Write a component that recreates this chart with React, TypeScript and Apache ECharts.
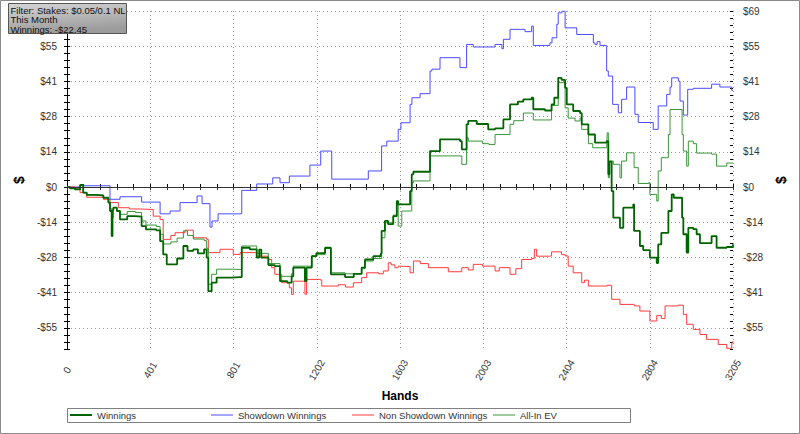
import React, { useEffect, useRef } from 'react';
import * as echarts from 'echarts';

const FONT = '"Liberation Sans", Arial, sans-serif';

// x axis (hands)
const X_MAX = 3205;
const X_STEP = 400.625;
const xTickLabels = ['0', '401', '801', '1202', '1603', '2003', '2404', '2804', '3205'];

// y axis ($)
const Y_MIN = -63.48;
const Y_MAX = 69;
const Y_MINOR = 2.76;
const yMajorTicks = [-55.2, -41.4, -27.6, -13.8, 0, 13.8, 27.6, 41.4, 55.2, 69];
const yTickLabels = ['-$55', '-$41', '-$28', '-$14', '$0', '$14', '$28', '$41', '$55', '$69'];

const seriesNames = ['Winnings', 'Showdown Winnings', 'Non Showdown Winnings', 'All-In EV'];
const seriesColors = ['#006400', '#4b4bff', '#ff3b3b', '#3a963a'];
const seriesWidths = [1.8, 1, 1, 1];
const infoLines = ['Filter: Stakes: $0.05/0.1 NL', 'This Month', 'Winnings: -$22.45'];

// [hand, $]
const winnings: [number, number][] = [
  [0, 0], [14, -0.5], [38, -0.9], [63, 0.8], [78, -2.2], [95, -3.1], [135, -3.3], [175, -4.2],
  [199, -6.1], [207, -9.4], [215, -19.2], [219, -9], [223, -8.1], [240, -9.4], [255, -12.7],
  [290, -11.4], [330, -11.6], [359, -15.3], [380, -16.6], [430, -17], [448, -21.2], [463, -26.4],
  [480, -30.3], [520, -30.3], [530, -28], [560, -23.1], [580, -25], [608, -24.4], [630, -26],
  [660, -24.4], [672, -27.7], [680, -40.8], [696, -37.5], [720, -35.5], [790, -35.3], [833, -35.3],
  [841, -23.8], [880, -24.4], [913, -27.7], [925, -24.5], [935, -27.7], [969, -30.6], [1000, -31],
  [1025, -36.9], [1060, -37.5], [1081, -35], [1089, -31.6], [1140, -31.6], [1145, -36.9],
  [1153, -31.6], [1178, -27.1], [1200, -25.9], [1242, -23.8], [1260, -23.8], [1270, -34.2],
  [1338, -35.3], [1380, -34], [1418, -31.6], [1434, -28.4], [1474, -27.1], [1510, -26],
  [1514, -17.2], [1530, -13.3], [1545, -14.5], [1570, -11.4], [1587, -5.5], [1594, -6.8],
  [1627, -6.8], [1651, -1.6], [1659, 5], [1667, 6], [1739, 6], [1747, 14.1], [1795, 18.7],
  [1891, 18], [1900, 14.8], [1923, 24.6], [1931, 25.9], [1972, 24.7], [2027, 22.6], [2060, 23],
  [2100, 26.5], [2132, 32.4], [2170, 33.5], [2196, 34.4], [2236, 35], [2244, 30.5], [2300, 30],
  [2332, 32.4], [2345, 35], [2364, 42.8], [2380, 42], [2397, 38.9], [2405, 32.4], [2436, 29.8],
  [2469, 29], [2477, 24.6], [2509, 20.6], [2541, 17.4], [2597, 18], [2605, 5], [2610, 10],
  [2621, -1.6], [2629, -12], [2661, -16], [2677, -8.1], [2725, -6.8], [2729, -17.2], [2757, -23.1],
  [2773, -24.7], [2805, -27.7], [2838, -29.8], [2845, -22.5], [2860, -18], [2894, -9.4],
  [2910, -2.9], [2920, -4.2], [2950, -4.2], [2960, -12], [2966, -18.5], [2982, -25.7], [2990, -16],
  [3014, -16.5], [3030, -18.5], [3046, -22], [3078, -22], [3102, -19.2], [3126, -23.8],
  [3175, -23.5], [3205, -22.45],
];

const allInEV: [number, number][] = [
  [0, 0], [14, -0.5], [38, -0.9], [63, 0.8], [78, -2.2], [95, -3.1], [135, -3.3], [175, -4.2],
  [199, -6.1], [207, -8.5], [215, -12], [223, -8.1], [240, -9.4], [255, -10.7], [290, -9.6],
  [330, -10], [359, -13.3], [380, -14.9], [430, -15.5], [448, -18.5], [463, -22.3], [500, -21.5],
  [530, -20], [560, -17.2], [580, -19], [608, -20.4], [660, -21], [672, -24], [680, -38.1],
  [696, -34.2], [720, -32.2], [790, -32.3], [833, -32.3], [841, -23.1], [913, -26], [969, -30],
  [1025, -35], [1081, -34], [1089, -31], [1153, -31], [1178, -27], [1200, -26.5], [1242, -24],
  [1270, -33.6], [1338, -34], [1418, -32], [1434, -29], [1474, -28], [1514, -19.9], [1530, -14],
  [1570, -11], [1587, -6.5], [1594, -15.3], [1611, -9.4], [1651, -9.4], [1659, 1.7], [1667, 2.4],
  [1739, 2.4], [1747, 12.2], [1891, 12.2], [1900, 8.9], [1923, 19.3], [1931, 18], [2000, 17],
  [2030, 16.7], [2060, 20.6], [2132, 24.6], [2150, 26], [2196, 29], [2236, 29], [2244, 26.3],
  [2300, 26.3], [2332, 32], [2364, 40.9], [2397, 31], [2412, 27], [2445, 25.9], [2469, 27],
  [2477, 22.6], [2509, 17], [2530, 15.4], [2597, 16], [2600, 21.3], [2605, 3.6], [2610, 10.2],
  [2629, 8.9], [2653, 8.9], [2661, 3.6], [2669, 10.2], [2693, 13.4], [2729, 7.6], [2749, 1.4],
  [2800, 1.8], [2805, -2.9], [2838, -5.5], [2845, 6.3], [2860, 11.5], [2894, 20.6], [2902, 30.4],
  [2950, 30.4], [2960, 20.6], [2966, 14.1], [2982, 8.2], [2990, 18], [3014, 17], [3030, 13.3],
  [3078, 13.3], [3102, 12.9], [3126, 8.2], [3175, 9.4], [3205, 9.4],
];

const showdown: [number, number][] = [
  [0, 0], [62, 0.5], [207, -4.8], [255, -3.8], [359, -5.9], [448, -10.5], [496, -9.4], [544, -6.1],
  [626, -3.5], [650, -6.5], [688, -15.7], [698, -13.3], [727, -10.5], [841, -1.3], [913, 1.2],
  [990, 3.6], [1025, 1.7], [1070, 4.3], [1169, 8.6], [1221, 14.1], [1274, 3.1], [1450, 6.3],
  [1514, 16.1], [1539, 18], [1594, 22.6], [1607, 25.2], [1651, 32.4], [1660, 35], [1699, 36.6],
  [1747, 45.5], [1756, 46.2], [1795, 50.7], [1891, 46.8], [1923, 55.9], [1955, 54.9], [2060, 55.9],
  [2093, 54.2], [2100, 57.9], [2132, 61.8], [2204, 60.9], [2236, 63.1], [2244, 55.5], [2324, 56.5],
  [2334, 58.5], [2357, 63.8], [2364, 68.3], [2382, 69], [2397, 62.4], [2453, 59.8], [2533, 56.5],
  [2541, 55.9], [2551, 57], [2565, 55.5], [2597, 45.5], [2605, 43.5], [2626, 32.4], [2653, 29.1],
  [2669, 34.4], [2693, 39.2], [2733, 28.5], [2749, 25.3], [2821, 22.6], [2845, 31.8], [2886, 36.3],
  [2902, 39.2], [2910, 42.8], [2942, 41.5], [2950, 33.7], [2966, 28.2], [2987, 38.3], [3014, 38.7],
  [3102, 40.3], [3142, 39.2], [3199, 37.9], [3205, 37.9],
];

const nonShowdown: [number, number][] = [
  [0, 0], [38, -0.7], [63, -2.2], [95, -4], [175, -4.8], [207, -6.1], [247, -8.1], [300, -8.6],
  [351, -8.8], [415, -11.4], [448, -12.7], [463, -20.5], [500, -19], [520, -17.9], [568, -16.9],
  [608, -19.9], [672, -20.5], [680, -25.7], [736, -24.4], [800, -26.4], [833, -25.7], [913, -27.1],
  [969, -28.4], [985, -31.6], [1000, -34.2], [1033, -37.5], [1070, -39.5], [1081, -42.1],
  [1089, -36.9], [1140, -36.9], [1145, -42], [1153, -36.2], [1220, -36.5], [1226, -38.8],
  [1306, -38.3], [1340, -39.2], [1378, -37.5], [1418, -35.5], [1442, -33.6], [1500, -34],
  [1522, -32.9], [1546, -29.7], [1560, -30.5], [1578, -31.6], [1594, -31], [1611, -31.2],
  [1651, -33.6], [1667, -29], [1700, -30], [1739, -31.6], [1835, -33.2], [1900, -31.6],
  [1931, -32.5], [1955, -30.3], [2000, -31], [2060, -32.9], [2080, -31.6], [2132, -34.2],
  [2160, -32], [2188, -28.4], [2236, -28], [2249, -24.4], [2260, -27.1], [2324, -27], [2332, -25.4],
  [2380, -26.5], [2397, -27], [2412, -31], [2436, -33.6], [2477, -37.5], [2490, -36.5],
  [2509, -38.8], [2600, -38.5], [2621, -44], [2661, -46], [2730, -46.6], [2757, -48.6],
  [2805, -52.5], [2838, -50.4], [2860, -51.5], [2878, -46.6], [2940, -46.3], [2966, -49.9],
  [2982, -53.8], [3014, -55.8], [3046, -57.8], [3078, -59.7], [3134, -61.7], [3175, -63.2],
  [3199, -61], [3205, -60.4],
];

const seriesData = [winnings, showdown, nonShowdown, allInEV];

const majorIndex = (v: number) => yMajorTicks.findIndex((t) => Math.abs(t - v) < 1e-3);

export default function App() {
  const ref = useRef<HTMLDivElement>(null);

  useEffect(() => {
    if (!ref.current) return;
    const chart = echarts.init(ref.current, undefined, { renderer: 'svg' });
    const phase = Math.round((yMajorTicks[0] - Y_MIN) / Y_MINOR) % 5;
    const splitColors = [0, 1, 2, 3, 4].map((i) => (i === phase ? '#9a9a9a' : 'rgba(0,0,0,0)'));

    const axisLabelStyle = { fontFamily: FONT, fontSize: 10, color: '#333' };
    const yBase = { type: 'value' as const, min: Y_MIN, max: Y_MAX, interval: Y_MINOR };
    const xBase = { type: 'value' as const, min: 0, max: X_MAX, interval: X_STEP };

    const yFormatter = (hideTop: boolean) => (v: number) => {
      const i = majorIndex(v);
      if (i < 0) return '';
      if (hideTop && i === yMajorTicks.length - 1) return '';
      return yTickLabels[i];
    };

    const line = (idx: number, extra: any = {}) => ({
      name: seriesNames[idx],
      type: 'line',
      data: seriesData[idx],
      step: 'end',
      symbol: 'none',
      showSymbol: false,
      color: seriesColors[idx],
      lineStyle: { color: seriesColors[idx], width: seriesWidths[idx] },
      itemStyle: { color: seriesColors[idx] },
      emphasis: { disabled: true },
      ...extra,
    });

    const legends = seriesNames.map((name, i) => ({
      data: [{ name, icon: 'rect' }],
      left: 70 + i * 141,
      top: 410,
      padding: 0,
      itemWidth: 22,
      itemHeight: seriesWidths[i] > 1 ? 2 : 1,
      selectedMode: false,
      textStyle: { fontFamily: FONT, fontSize: 9.5, color: '#333' },
    }));

    chart.setOption({
      animation: false,
      backgroundColor: '#ffffff',
      textStyle: { fontFamily: FONT },
      grid: { left: 67, right: 67, top: 11, bottom: 85, containLabel: false },
      xAxis: [
        {
          ...xBase,
          position: 'bottom',
          axisLine: { show: true, lineStyle: { color: '#000', width: 1 } },
          axisTick: { show: true, length: 3, lineStyle: { color: '#000' } },
          minorTick: { show: true, splitNumber: 5, length: 3, lineStyle: { color: '#000' } },
          axisLabel: {
            ...axisLabelStyle,
            rotate: 60,
            align: 'center',
            verticalAlign: 'middle',
            margin: 21,
            formatter: (v: number) => xTickLabels[Math.round(v / X_STEP)] ?? '',
          },
          splitLine: { show: true, lineStyle: { color: '#9a9a9a', type: [1, 3], width: 1 } },
          name: 'Hands',
          nameLocation: 'middle',
          nameGap: 41,
          nameTextStyle: { fontFamily: FONT, fontSize: 12, fontWeight: 'bold', color: '#000' },
        },
        {
          ...xBase,
          position: 'bottom',
          axisLine: { show: false },
          axisTick: { show: true, inside: true, length: 3, lineStyle: { color: '#000' } },
          minorTick: { show: true, splitNumber: 5, length: 3, lineStyle: { color: '#000' } },
          axisLabel: { show: false },
          splitLine: { show: false },
        },
        {
          ...xBase,
          position: 'top',
          axisLine: { show: true, lineStyle: { color: '#333', width: 1 } },
          axisTick: { show: true, inside: true, length: 3, lineStyle: { color: '#333' } },
          minorTick: { show: true, splitNumber: 5, length: 3, lineStyle: { color: '#333' } },
          axisLabel: { show: false },
          splitLine: { show: false },
        },
      ],
      yAxis: [
        {
          ...yBase,
          position: 'left',
          axisLine: { show: true, lineStyle: { color: '#000', width: 1 } },
          axisTick: { show: true, length: 3, lineStyle: { color: '#000' } },
          axisLabel: { ...axisLabelStyle, margin: 10, formatter: yFormatter(true) },
          splitLine: { show: true, lineStyle: { color: splitColors, type: [1, 3], width: 1 } },
          name: '$',
          nameLocation: 'middle',
          nameGap: 40,
          nameRotate: 90,
          nameTextStyle: { fontFamily: FONT, fontSize: 14, fontWeight: 'bold', color: '#000' },
        },
        {
          ...yBase,
          position: 'left',
          axisLine: { show: false },
          axisTick: { show: true, inside: true, length: 3, lineStyle: { color: '#000' } },
          axisLabel: { show: false },
          splitLine: { show: false },
        },
        {
          ...yBase,
          position: 'right',
          axisLine: { show: true, lineStyle: { color: '#000', width: 1 } },
          axisTick: { show: true, length: 3, lineStyle: { color: '#000' } },
          axisLabel: { ...axisLabelStyle, margin: 10, formatter: yFormatter(false) },
          splitLine: { show: false },
          name: '$',
          nameLocation: 'middle',
          nameGap: 32,
          nameRotate: 90,
          nameTextStyle: { fontFamily: FONT, fontSize: 14, fontWeight: 'bold', color: '#000' },
        },
        {
          ...yBase,
          position: 'right',
          axisLine: { show: false },
          axisTick: { show: true, inside: true, length: 3, lineStyle: { color: '#000' } },
          axisLabel: { show: false },
          splitLine: { show: false },
        },
      ],
      legend: legends,
      graphic: {
        elements: [
          {
            type: 'rect',
            shape: { x: 0.5, y: 0.5, width: 799, height: 433 },
            style: { fill: 'none', stroke: '#8a8a8a', lineWidth: 1 },
            silent: true,
            z: 100,
          },
          {
            type: 'rect',
            shape: { x: 67.5, y: 408.5, width: 563, height: 14 },
            style: { fill: 'none', stroke: '#808080', lineWidth: 1 },
            silent: true,
            z: 100,
          },
          {
            type: 'rect',
            shape: { x: 8.5, y: 3.5, width: 118, height: 30 },
            style: {
              fill: {
                type: 'linear', x: 0, y: 0, x2: 0.3, y2: 1,
                colorStops: [
                  { offset: 0, color: '#d6d6d6' },
                  { offset: 1, color: '#9c9c9c' },
                ],
              },
              stroke: '#555',
              lineWidth: 1,
            },
            silent: true,
            z: 200,
          },
          ...infoLines.map((t, i) => ({
            type: 'text',
            x: 10.5,
            y: 5 + i * 9.5,
            silent: true,
            z: 201,
            style: { text: t, fontFamily: FONT, fontSize: 9.5, fill: '#111', textVerticalAlign: 'top' },
          })),
        ],
      },
      series: [
        line(1, {
          markLine: {
            silent: true,
            symbol: ['none', 'none'],
            label: { show: false },
            lineStyle: { color: '#333', width: 1, type: 'solid' },
            emphasis: { disabled: true },
            data: [{ yAxis: 0 }],
          },
        }),
        line(2),
        line(3),
        line(0),
      ],
    });

    return () => chart.dispose();
  }, []);

  return (
    <div
      ref={ref}
      style={{ position: 'absolute', left: 0, top: 0, width: 800, height: 434 }}
    />
  );
}
